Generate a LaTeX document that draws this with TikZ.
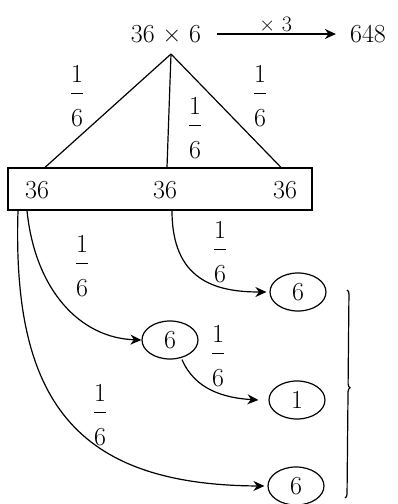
\RequirePackage{fix-cm}
\documentclass[tikz,border=0pt]{standalone}
\usepackage{amsmath}
\usepackage{fontspec}
\usepackage{tikz}
\usetikzlibrary{positioning,arrows.meta,shapes.geometric,decorations.pathreplacing}

\newcommand{\onesixth}{$\dfrac{1}{\rule{0pt}{30pt}6}$}

\begin{document}
\begin{tikzpicture}[
  x=1pt,y=-1pt,
  every node/.style={inner sep=2pt,font=\fontsize{26}{30}\selectfont},
  num/.style={},
  frac/.style={anchor=base,inner sep=0pt},
  leaf/.style={draw,ellipse,line width=1.2pt,minimum width=56,minimum height=38,inner sep=0pt},
  arr/.style={line width=1.2pt,-{Stealth[length=11pt,width=10pt]}},
  edge/.style={line width=1.2pt},
]
\useasboundingbox (0,0) rectangle (397,504);
% top line
\node[num] (prod) at (166,34) {36 × 6};
\node[num] (res) at (368,34) {648};
\draw[arr,shorten <=14pt,shorten >=12pt] (prod) -- node[above=0pt,font=\fontsize{22}{24}\selectfont] {× 3} (res);
\coordinate (top) at (171,54);
% split into three
\node[draw,line width=1.2pt,minimum width=304,minimum height=42,inner sep=0pt] (row) at (160,189) {};
\node[num] (a1) at (37,190) {36};
\node[num] (a2) at (165,190) {36};
\node[num] (a3) at (285,190) {36};
\draw[edge] (top) -- ([xshift=8]a1 |- row.north);
\draw[edge] (top) -- ([xshift=2]a2 |- row.north);
\draw[edge] (top) -- ([xshift=-4]a3 |- row.north);
\node[frac] (f1) at (77,100) {\onesixth};
\node[frac] (f2) at (195,132) {\onesixth};
\node[frac] (f3) at (260,100) {\onesixth};
% results
\node[leaf] (b1) at (298,292) {6};
\node[leaf] (b2) at (170,340) {6};
\node[leaf] (b3) at (297,400) {1};
\node[leaf] (b4) at (296,486) {6};
\draw[arr] ([xshift=-10]a1 |- row.south) .. controls (35,290) and (80,338) .. (b2.west);
\draw[arr] ([xshift=-19]a1 |- row.south) .. controls (12,400) and (75,485) .. ([xshift=-3]b4.west);
\draw[arr] ([xshift=7]a2 |- row.south) .. controls (172,280) and (215,292) .. ([xshift=-3]b1.west);
\draw[arr] ([xshift=12]b2.south) .. controls (195,390) and (225,398) .. ([xshift=-10]b3.west);
\node[frac] (f4) at (82,270) {\onesixth};
\node[frac] (f5) at (220,256) {\onesixth};
\node[frac] (f6) at (218,360) {\onesixth};
\node[frac] (f7) at (100,419) {\onesixth};
% brace
\draw[edge,decorate,decoration={brace,amplitude=4pt,aspect=0.47}] (347,290) -- (345,498);
\end{tikzpicture}
\end{document}
